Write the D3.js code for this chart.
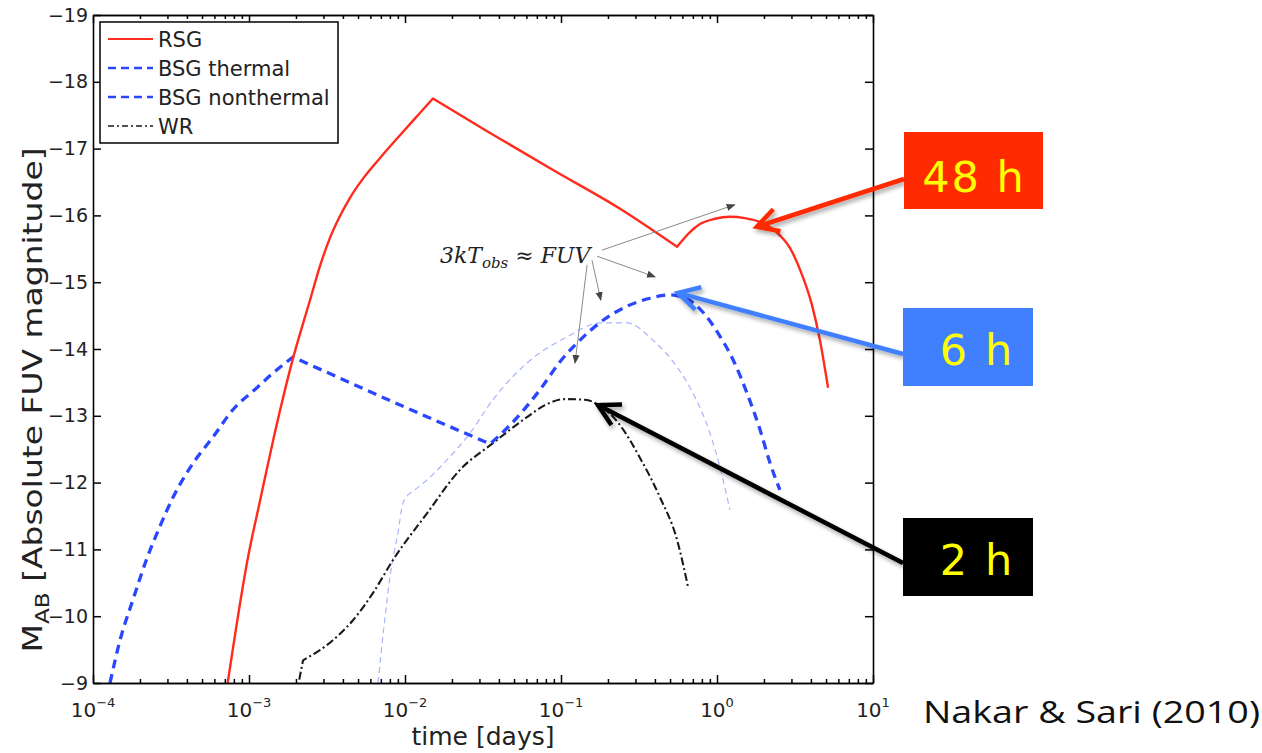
<!DOCTYPE html>
<html>
<head>
<meta charset="utf-8">
<script src="https://cdn.jsdelivr.net/npm/d3@7/dist/d3.min.js"></script>
<style>
  body { margin: 0; background: #fff; }
  svg { display: block; }
</style>
</head>
<body>
<svg id="chart" width="1262" height="753"></svg>
<script>
// ---- light-curve samples: time since breakout [days] vs absolute FUV AB magnitude ----
const rsgTime = [7.3e-4, 9.85e-4, 1.18e-3, 1.44e-3, 1.92e-3, 2.46e-3, 2.85e-3, 3.30e-3, 3.83e-3, 4.43e-3,
                 5.38e-3, 6.92e-3, 9.29e-3, 1.21e-2, 1.51e-2, 3.36e-2, 8.89e-2, 0.239, 0.555, 0.671,
                 0.778, 0.970, 1.21, 1.51, 1.89, 2.35, 2.94, 3.51, 4.06, 4.57, 5.15];
const rsgMag  = [-9.0, -10.88, -11.74, -12.67, -13.87, -14.73, -15.24, -15.66, -15.99, -16.26,
                 -16.55, -16.86, -17.20, -17.50, -17.75, -17.26, -16.68, -16.10, -15.53, -15.75,
                 -15.87, -15.95, -15.98, -15.96, -15.90, -15.77, -15.51, -15.11, -14.66, -14.13, -13.42];
const rsgCorners = [1.51e-2, 0.555];

const bsgTime = [1.285e-4, 1.49e-4, 1.80e-4, 2.22e-4, 2.68e-4, 3.26e-4, 4.38e-4, 5.87e-4, 7.88e-4, 1.124e-3,
                 1.51e-3, 1.915e-3, 1.25e-2, 3.51e-2, 4.71e-2, 7.33e-2, 9.86e-2, 0.132, 0.186, 0.265,
                 0.372, 0.500, 0.643, 0.813, 1.045, 1.267, 1.557, 1.888, 2.19, 2.53];
const bsgMag  = [-9.0, -9.64, -10.24, -10.87, -11.34, -11.78, -12.29, -12.68, -13.09, -13.42,
                 -13.69, -13.88, -13.03, -12.58, -12.86, -13.39, -13.81, -14.13, -14.43, -14.64,
                 -14.76, -14.81, -14.75, -14.55, -14.19, -13.84, -13.34, -12.79, -12.29, -11.89];
const bsgCorners = [1.915e-3, 3.51e-2];

const bsgNonthermalTime = [6.71e-3, 7.45e-3, 8.01e-3, 9.02e-3, 9.70e-3, 1.076e-2, 1.384e-2, 1.858e-2, 2.61e-2, 3.66e-2,
                           6.05e-2, 0.109, 0.178, 0.265, 0.389, 0.555, 0.701, 0.901, 1.045, 1.21];
const bsgNonthermalMag  = [-9.0, -9.99, -10.59, -11.25, -11.69, -11.84, -12.04, -12.34, -12.74, -13.24,
                           -13.79, -14.18, -14.39, -14.39, -14.13, -13.73, -13.34, -12.74, -12.23, -11.59];
const bsgNonthermalCorners = [1.076e-2];

const wrTime = [2.10e-3, 2.22e-3, 3.45e-3, 4.64e-3, 6.24e-3, 8.37e-3, 1.384e-2, 2.25e-2, 3.66e-2, 6.05e-2,
                7.89e-2, 0.1062, 0.1426, 0.178, 0.239, 0.321, 0.431, 0.555, 0.652];
const wrMag  = [-9.05, -9.34, -9.64, -9.94, -10.35, -10.84, -11.54, -12.19, -12.59, -12.98,
                -13.16, -13.25, -13.24, -13.15, -12.86, -12.37, -11.78, -11.14, -10.44];
const wrCorners = [2.22e-3];

// ---- axis ticks and labels ----
const xTickValues = [1e-4, 1e-3, 1e-2, 1e-1, 1, 10];
const xTickExponents = ["\u22124", "\u22123", "\u22122", "\u22121", "0", "1"];
const yTickValues = [-19, -18, -17, -16, -15, -14, -13, -12, -11, -10, -9];
const xAxisTitle = "time [days]";
const yAxisTitleMain = "M";
const yAxisTitleSub = "AB";
const yAxisTitleRest = " [Absolute FUV magnitude]";
const legendLabels = ["RSG", "BSG thermal", "BSG nonthermal", "WR"];

// ---- annotation: where 3kT_obs reaches the FUV band (time, magnitude) ----
const fuvLabelTime = 0.01675, fuvLabelMag = -15.29;
const fuvArrowFromTime = [0.183, 0.170, 0.158, 0.147];
const fuvArrowFromMag  = [-15.48, -15.39, -15.33, -15.26];
const fuvArrowToTime   = [1.30, 0.401, 0.180, 0.123];
const fuvArrowToMag    = [-16.16, -15.08, -14.73, -13.79];

// ---- callouts: observing window needed for each progenitor ----
const calloutLabels = ["48 h", "6 h", "2 h"];
const calloutTargetTime = [1.80, 0.562, 0.1726];
const calloutTargetMag  = [-15.83, -14.84, -13.16];
const citation = "Nakar & Sari (2010)";

// ---------------------------------------------------------------
const svg = d3.select("#chart");
const margin = { left: 93, top: 15, right: 873, bottom: 683 };

const x = d3.scaleLog().domain([1e-4, 10]).range([margin.left, margin.right]);
const y = d3.scaleLinear().domain([-19, -9]).range([margin.top, margin.bottom]);

const defs = svg.append("defs");
defs.append("clipPath").attr("id", "plotClip")
  .append("rect")
  .attr("x", margin.left).attr("y", margin.top)
  .attr("width", margin.right - margin.left).attr("height", margin.bottom - margin.top);

defs.append("marker").attr("id", "grayHead")
  .attr("viewBox", "0 0 10 10").attr("refX", 9).attr("refY", 5)
  .attr("markerWidth", 9).attr("markerHeight", 9).attr("markerUnits", "userSpaceOnUse")
  .attr("orient", "auto")
  .append("path").attr("d", "M0,1 L10,5 L0,9 Z").attr("fill", "#444");

const shadow = defs.append("filter").attr("id", "shadow")
  .attr("x", "-20%").attr("y", "-20%").attr("width", "140%").attr("height", "140%");
shadow.append("feDropShadow").attr("dx", 2).attr("dy", 3).attr("stdDeviation", 2)
  .attr("flood-color", "#000").attr("flood-opacity", 0.35);

// ---- curves: smooth pieces joined at the sharp break points ----
const zip = (t, m) => t.map((v, i) => [v, m[i]]);
function splitAtCorners(points, corners) {
  const pieces = [];
  let cur = [];
  points.forEach(p => {
    cur.push(p);
    if (corners.some(c => Math.abs(c - p[0]) / c < 1e-6)) {
      pieces.push(cur);
      cur = [p];
    }
  });
  if (cur.length > 1) pieces.push(cur);
  return pieces;
}
const smooth = d3.line().x(d => x(d[0])).y(d => y(d[1])).curve(d3.curveMonotoneX);
const pathOf = (t, m, corners) => splitAtCorners(zip(t, m), corners)
  .map(piece => smooth(piece)).join("")
  .replace(/M/g, (mm, off) => off === 0 ? "M" : "L");

const series = [
  { d: pathOf(bsgNonthermalTime, bsgNonthermalMag, bsgNonthermalCorners), stroke: "#a8b4ff", width: 1.2, dash: "6,4" },
  { d: pathOf(wrTime, wrMag, wrCorners), stroke: "#1a1a1a", width: 2.1, dash: "8,3,2,3" },
  { d: pathOf(bsgTime, bsgMag, bsgCorners), stroke: "#2a47ff", width: 3.3, dash: "9,6" },
  { d: pathOf(rsgTime, rsgMag, rsgCorners), stroke: "#ff2b1c", width: 2.4, dash: null }
];

const curves = svg.append("g").attr("clip-path", "url(#plotClip)");
curves.selectAll("path").data(series).join("path")
  .attr("d", s => s.d)
  .attr("fill", "none")
  .attr("stroke", s => s.stroke)
  .attr("stroke-width", s => s.width)
  .attr("stroke-dasharray", s => s.dash)
  .attr("stroke-linejoin", "round");

// ---- axes (MATLAB-style inward ticks on all four sides) ----
const minorTicks = [];
for (let e = -4; e < 1; e++) for (let k = 2; k <= 9; k++) minorTicks.push(k * Math.pow(10, e));

function styleAxis(g) {
  g.selectAll("path.domain").attr("stroke", "#000").attr("stroke-width", 1.6);
  g.selectAll(".tick line").attr("stroke", "#000").attr("stroke-width", 1.5);
}

const axes = svg.append("g");
axes.append("g").attr("transform", `translate(0,${margin.bottom})`)
  .call(d3.axisBottom(x).tickValues(xTickValues).tickSize(-8).tickSizeOuter(0).tickFormat(""))
  .call(styleAxis);
axes.append("g").attr("transform", `translate(0,${margin.bottom})`)
  .call(d3.axisBottom(x).tickValues(minorTicks).tickSize(-4).tickSizeOuter(0).tickFormat(""))
  .call(styleAxis);
axes.append("g").attr("transform", `translate(0,${margin.top})`)
  .call(d3.axisTop(x).tickValues(xTickValues).tickSize(-8).tickSizeOuter(0).tickFormat(""))
  .call(styleAxis);
axes.append("g").attr("transform", `translate(0,${margin.top})`)
  .call(d3.axisTop(x).tickValues(minorTicks).tickSize(-4).tickSizeOuter(0).tickFormat(""))
  .call(styleAxis);

const leftAxis = axes.append("g").attr("transform", `translate(${margin.left},0)`)
  .call(d3.axisLeft(y).tickValues(yTickValues).tickSize(-8).tickSizeOuter(0).tickPadding(5)
    .tickFormat(d => "\u2212" + Math.abs(d)))
  .call(styleAxis);
leftAxis.selectAll("text")
  .attr("font-family", "DejaVu Sans, sans-serif").attr("font-size", 19).attr("fill", "#222");

axes.append("g").attr("transform", `translate(${margin.right},0)`)
  .call(d3.axisRight(y).tickValues(yTickValues).tickSize(-8).tickSizeOuter(0).tickFormat(""))
  .call(styleAxis);

// x tick labels as powers of ten
const xLabels = svg.append("g")
  .attr("font-family", "DejaVu Sans, sans-serif").attr("fill", "#222");
xTickValues.forEach((v, i) => {
  const t = xLabels.append("text")
    .attr("x", x(v)).attr("y", 717).attr("text-anchor", "middle").attr("font-size", 20);
  t.append("tspan").text("10");
  t.append("tspan").attr("dy", -10).attr("font-size", 13).text(xTickExponents[i]);
});

// axis titles
svg.append("text")
  .attr("x", 483).attr("y", 745)
  .attr("text-anchor", "middle")
  .attr("font-family", "DejaVu Sans, sans-serif").attr("font-size", 25).attr("fill", "#222")
  .text(xAxisTitle);

const yTitle = svg.append("text")
  .attr("transform", "translate(42,400) rotate(-90)")
  .attr("text-anchor", "middle")
  .attr("textLength", 505).attr("lengthAdjust", "spacingAndGlyphs")
  .attr("font-family", "DejaVu Sans, sans-serif").attr("font-size", 27).attr("fill", "#222");
yTitle.append("tspan").text(yAxisTitleMain);
yTitle.append("tspan").attr("dy", 7).attr("font-size", 19).text(yAxisTitleSub);
yTitle.append("tspan").attr("dy", -7).text(yAxisTitleRest);

// ---- legend ----
const legend = svg.append("g");
legend.append("rect")
  .attr("x", 100).attr("y", 22).attr("width", 238).attr("height", 121)
  .attr("fill", "#fff").attr("stroke", "#000").attr("stroke-width", 1.5);
const legendStyles = [series[3], series[2], series[2], series[1]];
legendLabels.forEach((lab, i) => {
  const ly = 39 + i * 29;
  const s = legendStyles[i];
  legend.append("line")
    .attr("x1", 108).attr("x2", 153).attr("y1", ly).attr("y2", ly)
    .attr("stroke", s.stroke).attr("stroke-width", i === 0 ? 2 : (i === 3 ? 1.6 : 2.4))
    .attr("stroke-dasharray", i === 3 ? "6,3,2,3" : (i === 0 ? null : "8,5"));
  legend.append("text")
    .attr("x", 158).attr("y", ly).attr("dy", "0.36em")
    .attr("font-family", "DejaVu Sans, sans-serif").attr("font-size", 21).attr("fill", "#222")
    .text(lab);
});

// ---- 3kT_obs ≈ FUV annotation ----
const fuv = svg.append("g");
const fx = x(fuvLabelTime), fy = y(fuvLabelMag);
const fuvText = fuv.append("text")
  .attr("x", fx).attr("y", fy)
  .attr("font-family", "DejaVu Serif, serif").attr("font-size", 22).attr("fill", "#222");
fuvText.append("tspan").attr("font-style", "italic").text("3kT");
fuvText.append("tspan").attr("font-style", "italic").attr("font-size", 15).attr("dy", 5).text("obs");
fuvText.append("tspan").attr("dy", -5).text(" \u2248 ");
fuvText.append("tspan").attr("font-style", "italic").text("FUV");

fuv.selectAll("line.fuv-arrow")
  .data(fuvArrowFromTime.map((t, i) => i))
  .join("line").attr("class", "fuv-arrow")
  .attr("x1", i => x(fuvArrowFromTime[i])).attr("y1", i => y(fuvArrowFromMag[i]))
  .attr("x2", i => x(fuvArrowToTime[i])).attr("y2", i => y(fuvArrowToMag[i]))
  .attr("stroke", "#8a8a8a").attr("stroke-width", 1)
  .attr("marker-end", "url(#grayHead)");

// ---- callout boxes with arrows ----
const calloutFill = ["#ff2a00", "#4080ff", "#000000"];
const calloutBox = [
  { x: 904, y: 132, w: 139, h: 77, tx: 974, ty: 192, tailY: 179 },
  { x: 903, y: 308, w: 130, h: 78, tx: 977, ty: 365, tailY: 354 },
  { x: 903, y: 518, w: 130, h: 78, tx: 977, ty: 575, tailY: 563 }
];

const callouts = svg.append("g");
calloutLabels.forEach((lab, i) => {
  const b = calloutBox[i];
  const tipX = x(calloutTargetTime[i]), tipY = y(calloutTargetMag[i]);
  const tailX = b.x;
  const ang = Math.atan2(b.tailY - tipY, tailX - tipX);
  const barb = 24, spread = 0.5;
  const g = callouts.append("g").attr("filter", "url(#shadow)")
    .attr("stroke", calloutFill[i]).attr("stroke-width", 4.5).attr("stroke-linecap", "butt").attr("fill", "none");
  g.append("line").attr("x1", tailX).attr("y1", b.tailY).attr("x2", tipX).attr("y2", tipY);
  g.append("path")
    .attr("stroke-linejoin", "miter")
    .attr("d", `M${tipX + barb * Math.cos(ang - spread)},${tipY + barb * Math.sin(ang - spread)}` +
               `L${tipX},${tipY}` +
               `L${tipX + barb * Math.cos(ang + spread)},${tipY + barb * Math.sin(ang + spread)}`);
  callouts.append("rect")
    .attr("x", b.x).attr("y", b.y).attr("width", b.w).attr("height", b.h)
    .attr("fill", calloutFill[i]);
  callouts.append("text")
    .attr("x", b.tx).attr("y", b.ty).attr("text-anchor", "middle")
    .attr("font-family", "DejaVu Sans, sans-serif").attr("font-size", 43)
    .attr("letter-spacing", 2)
    .attr("fill", "#ffff00").attr("xml:space", "preserve")
    .text(lab);
});

// ---- citation ----
svg.append("text")
  .attr("x", 923).attr("y", 723)
  .attr("textLength", 337).attr("lengthAdjust", "spacingAndGlyphs")
  .attr("font-family", "Open Sans, Lato, sans-serif").attr("font-size", 31).attr("fill", "#111")
  .text(citation);
</script>
</body>
</html>
